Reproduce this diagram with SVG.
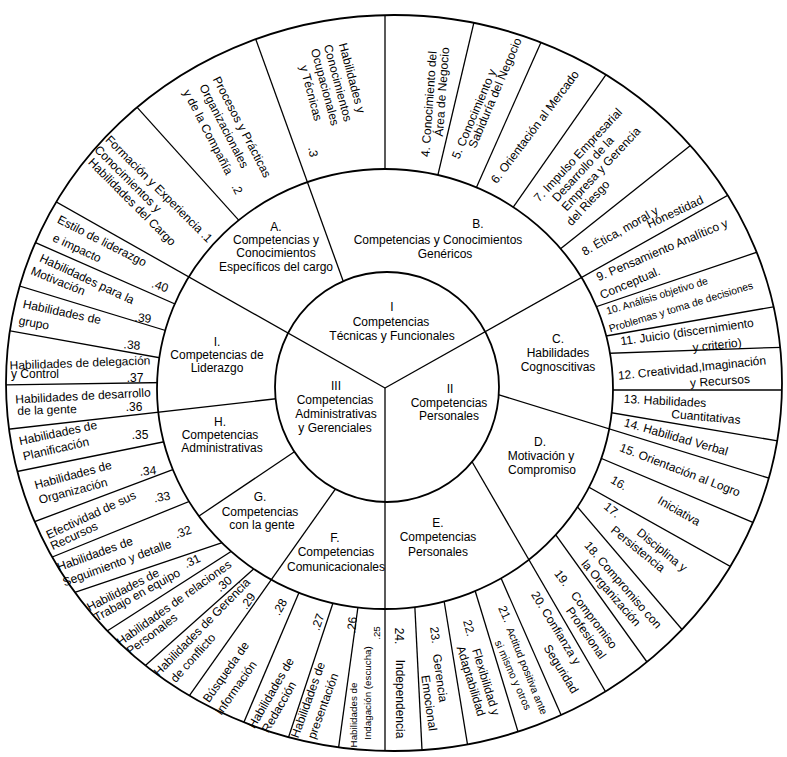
<svg xmlns="http://www.w3.org/2000/svg" width="787" height="757" viewBox="0 0 787 757">
<style>
.ln{stroke:#000;stroke-width:1.3;fill:none}
.ring{stroke:#000;stroke-width:1.8}
text{font-family:"Liberation Sans",Arial,sans-serif;font-size:12px;fill:#000;text-anchor:middle;dominant-baseline:central}
.s{font-size:10.4px}
.xs{font-size:9.8px}
</style>
<defs>
<clipPath id="oc"><ellipse cx="394" cy="383" rx="388" ry="368"/></clipPath>
</defs>
<rect width="787" height="757" fill="#fff"/>

<g id="outer-dividers" class="ln" clip-path="url(#oc)">
<line x1="0" y1="0" x2="460" y2="0" transform="translate(388,386) rotate(-132)"/>
<line x1="385" y1="300" x2="385" y2="0"/>
<line x1="0" y1="0" x2="460" y2="0" transform="translate(388,386) rotate(-76.7)"/>
<line x1="0" y1="0" x2="460" y2="0" transform="translate(388,386) rotate(-66)"/>
<line x1="0" y1="0" x2="460" y2="0" transform="translate(388,386) rotate(-55)"/>
<line x1="0" y1="0" x2="460" y2="0" transform="translate(388,386) rotate(-38.5)"/>
<line x1="560" y1="319" x2="790" y2="241"/>
<line x1="560" y1="344" x2="790" y2="304"/>
<line x1="560" y1="355" x2="790" y2="347"/>
<line x1="560" y1="390" x2="790" y2="390"/>
<line x1="560" y1="404" x2="790" y2="443"/>
<line x1="560" y1="441" x2="790" y2="538"/>
<line x1="560" y1="471" x2="790" y2="600"/>
<line x1="540" y1="463" x2="720" y2="674"/>
<line x1="530" y1="499" x2="680" y2="708"/>
<line x1="490" y1="553" x2="580" y2="758"/>
<line x1="470" y1="574" x2="530" y2="771"/>
<line x1="441" y1="582" x2="472" y2="772"/>
<line x1="414" y1="590" x2="423" y2="770"/>
<line x1="361" y1="585" x2="335.5" y2="770"/>
<line x1="340.6" y1="580" x2="277.7" y2="770"/>
<line x1="308.6" y1="570" x2="223.6" y2="770"/>
<line x1="110" y1="697" x2="275" y2="550"/>
<line x1="90" y1="642" x2="260" y2="533"/>
<line x1="60" y1="597.4" x2="240" y2="536.6"/>
<line x1="40" y1="562" x2="210" y2="493"/>
<line x1="25" y1="525.3" x2="200" y2="459.3"/>
<line x1="0" y1="475" x2="200" y2="434.5"/>
<line x1="0" y1="385" x2="200" y2="382"/>
<line x1="0" y1="329" x2="200" y2="365"/>
<line x1="0" y1="280" x2="200" y2="341"/>
<line x1="0" y1="227" x2="200" y2="315"/>
</g>

<ellipse id="middle-ring" class="ring" cx="385" cy="389" rx="228" ry="220" fill="#fff"/>

<g id="category-dividers" class="ln" clip-path="url(#oc)">
<line x1="380" y1="383" x2="247" y2="15"/>
<line x1="480" y1="389" x2="790" y2="484.6"/>
<line x1="460" y1="441" x2="651" y2="770"/>
<line x1="363" y1="450" x2="158" y2="740"/>
<line x1="300" y1="448" x2="199" y2="516"/>
<line x1="0" y1="0" x2="460" y2="0" transform="translate(388,386) rotate(173.5)"/>
</g>

<ellipse id="inner-circle" class="ring" cx="387" cy="387" rx="112" ry="115" fill="#fff"/>

<g id="main-dividers" class="ln" clip-path="url(#oc)">
<line x1="385" y1="388" x2="0" y2="170"/>
<line x1="385" y1="388" x2="787" y2="162"/>
<line x1="385" y1="388" x2="385" y2="760"/>
</g>

<ellipse id="outer-ring" class="ring" cx="394" cy="383" rx="388" ry="368" fill="none"/>

<g id="core-labels">
<text x="392" y="307">I</text>
<text x="391" y="322">Competencias</text>
<text x="392" y="336">Técnicas y Funcionales</text>
<text x="336" y="386">III</text>
<text x="335" y="400">Competencias</text>
<text x="336" y="414">Administrativas</text>
<text x="335" y="428">y Gerenciales</text>
<text x="450" y="389">II</text>
<text x="449" y="403">Competencias</text>
<text x="449" y="416">Personales</text>
</g>

<g id="category-labels">
<text x="276" y="227">A.</text>
<text x="276" y="240">Competencias y</text>
<text x="276" y="253">Conocimientos</text>
<text x="276" y="267">Específicos del cargo</text>
<text x="478" y="224">B.</text>
<text x="438" y="240">Competencias y Conocimientos</text>
<text x="445" y="254">Genéricos</text>
<text x="558" y="339">C.</text>
<text x="558" y="353">Habilidades</text>
<text x="558" y="367">Cognoscitivas</text>
<text x="540" y="442">D.</text>
<text x="541" y="456">Motivación y</text>
<text x="542" y="470">Compromiso</text>
<text x="438" y="523">E.</text>
<text x="438" y="537">Competencias</text>
<text x="438" y="552">Personales</text>
<text x="335" y="538">F.</text>
<text x="336" y="552">Competencias</text>
<text x="336" y="567">Comunicacionales</text>
<text x="260" y="497">G.</text>
<text x="260" y="512">Competencias</text>
<text x="262" y="525">con la gente</text>
<text x="220" y="422">H.</text>
<text x="220" y="435">Competencias</text>
<text x="222" y="448">Administrativas</text>
<text x="217" y="342">I.</text>
<text x="217" y="355">Competencias de</text>
<text x="217" y="368">Liderazgo</text>
</g>

<g id="item-labels">
<text transform="translate(159,189) rotate(45)">Formación y Experiencia .1</text>
<text transform="translate(128,179) rotate(45)">Conocimientos y</text>
<text transform="translate(132,202) rotate(45)">Habilidades del Cargo</text>
<text transform="translate(242,127) rotate(62.5)">Procesos y Prácticas</text>
<text transform="translate(224,126) rotate(62.5)">Organizacionales</text>
<text transform="translate(208,132) rotate(62.5)">y de la Compañía</text>
<text transform="translate(237,189) rotate(62.5)">.2</text>
<text transform="translate(352,78) rotate(75)">Habilidades y</text>
<text transform="translate(338,83) rotate(75)">Conocimientos</text>
<text transform="translate(325,87) rotate(75)">Ocupacionales</text>
<text transform="translate(311,93) rotate(75)">y Técnicas</text>
<text transform="translate(313,152) rotate(80)">.3</text>
<text transform="translate(429,104) rotate(-86)">4. Conocimiento del</text>
<text transform="translate(442,92) rotate(-86)">Área de Negocio</text>
<text transform="translate(474,114) rotate(-67)">5. Conocimiento y</text>
<text transform="translate(495,93) rotate(-67)">Sabiduría del Negocio</text>
<text transform="translate(535,127) rotate(-53)">6. Orientación al Mercado</text>
<text transform="translate(578,155) rotate(-47)">7. Impulso Empresarial</text>
<text transform="translate(583,169) rotate(-47)">Desarrollo de la</text>
<text transform="translate(601,169) rotate(-47)">Empresa y Gerencia</text>
<text transform="translate(588,203) rotate(-47)">del Riesgo</text>
<text transform="translate(620,231) rotate(-30)">8. Ética, moral y</text>
<text transform="translate(675,212) rotate(-25)">Honestidad</text>
<text transform="translate(662,250) rotate(-23)">9. Pensamiento Analítico y</text>
<text transform="translate(630,283) rotate(-23)">Conceptual.</text>
<text class="s" transform="translate(657,296) rotate(-17)">10. Análisis objetivo de</text>
<text class="s" transform="translate(681,307) rotate(-17)">Problemas y toma de decisiones</text>
<text transform="translate(687,332) rotate(-8)">11. Juicio (discernimiento</text>
<text transform="translate(717,345) rotate(-6)">y criterio)</text>
<text transform="translate(692,368) rotate(-6)">12. Creatividad,Imaginación</text>
<text transform="translate(720,381) rotate(-4)">y Recursos</text>
<text transform="translate(665,401) rotate(3)">13. Habilidades</text>
<text transform="translate(706,417) rotate(5)">Cuantitativas</text>
<text transform="translate(676,437) rotate(16)">14. Habilidad Verbal</text>
<text transform="translate(680,470) rotate(21)">15. Orientación al Logro</text>
<text transform="translate(619,483) rotate(30)">16.</text>
<text transform="translate(679,511) rotate(30)">Iniciativa</text>
<text transform="translate(612,510) rotate(40)">17.</text>
<text transform="translate(662,550) rotate(39)">Disciplina y</text>
<text transform="translate(638,549) rotate(39)">Persistencia</text>
<text transform="translate(623,585) rotate(49)">18. Compromiso con</text>
<text transform="translate(611,593) rotate(49)">la Organización</text>
<text transform="translate(562,578) rotate(53)">19.</text>
<text transform="translate(594,620) rotate(53)">Compromiso</text>
<text transform="translate(586,633) rotate(55)">Profesional</text>
<text transform="translate(556,628) rotate(58.5)">20. Confianza y</text>
<text transform="translate(561,669) rotate(58.5)">Seguridad</text>
<text transform="translate(505,614) rotate(66)">21.</text>
<text class="s" transform="translate(527,671) rotate(68)">Actitud positiva ante</text>
<text class="s" transform="translate(513,675) rotate(66)">si mismo y otros</text>
<text transform="translate(469,628) rotate(75)">22.</text>
<text transform="translate(486,682) rotate(73)">Flexibilidad y</text>
<text transform="translate(471,681) rotate(73)">Adaptabilidad</text>
<text transform="translate(435,635) rotate(82)">23.</text>
<text transform="translate(440,678) rotate(82)">Gerencia</text>
<text transform="translate(429,703) rotate(82)">Emocional</text>
<text transform="translate(399,636) rotate(90)">24.</text>
<text transform="translate(400,699) rotate(90)">Independencia</text>
<text class="xs" transform="translate(376,633) rotate(-90)">.25</text>
<text class="xs" transform="translate(353,715) rotate(-90)">Habilidades de</text>
<text class="xs" transform="translate(367,693) rotate(-90)">Indagación (escucha)</text>
<text transform="translate(352,625) rotate(-85)">.26</text>
<text transform="translate(318,622) rotate(-70)">.27</text>
<text transform="translate(308,700) rotate(-70)">Habilidades de</text>
<text transform="translate(323,706) rotate(-70)">presentación</text>
<text transform="translate(280,607) rotate(-60)">.28</text>
<text transform="translate(271,693) rotate(-60)">Habilidades de</text>
<text transform="translate(279,707) rotate(-60)">Redacción</text>
<text transform="translate(226,672) rotate(-55)">Búsqueda  de</text>
<text transform="translate(236,688) rotate(-55)">Información</text>
<text transform="translate(248,601) rotate(-55)">.29</text>
<text transform="translate(202,627) rotate(-45.5)">Habilidades de Gerencia</text>
<text transform="translate(193,658) rotate(-48)">de conflicto</text>
<text transform="translate(224,584) rotate(-40)">.30</text>
<text transform="translate(174,603) rotate(-35.5)">Habilidades de relaciones</text>
<text transform="translate(152,634) rotate(-37)">Personales</text>
<text transform="translate(192,561) rotate(-25)">.31</text>
<text transform="translate(123,590) rotate(-27)">Habilidades de</text>
<text transform="translate(137,595) rotate(-29)">Trabajo en equipo</text>
<text transform="translate(183,532) rotate(-20)">.32</text>
<text transform="translate(95,554) rotate(-20)">Habilidades de</text>
<text transform="translate(117,563) rotate(-20)">Seguimiento y detalle</text>
<text transform="translate(162,497) rotate(-10)">.33</text>
<text transform="translate(91,515) rotate(-25)">Efectividad de sus</text>
<text transform="translate(74,536) rotate(-25)">Recursos</text>
<text transform="translate(148,471) rotate(-5)">.34</text>
<text transform="translate(73,475) rotate(-15)">Habilidades de</text>
<text transform="translate(73,491) rotate(-15)">Organización</text>
<text x="140" y="435">.35</text>
<text transform="translate(58,433) rotate(-12)">Habilidades de</text>
<text transform="translate(56,449) rotate(-13)">Planificación</text>
<text x="134" y="407">.36</text>
<text transform="translate(83,396) rotate(-3)">Habilidades de desarrollo</text>
<text transform="translate(47,410) rotate(-2)">de la gente</text>
<text x="135" y="378">.37</text>
<text transform="translate(80,363) rotate(-2)">Habilidades de delegación</text>
<text x="35" y="374">y Control</text>
<text transform="translate(132,345) rotate(5)">.38</text>
<text transform="translate(143,318) rotate(5)">.39</text>
<text transform="translate(62,312) rotate(12)">Habilidades de</text>
<text transform="translate(34,323) rotate(10)">grupo</text>
<text transform="translate(160,286) rotate(20)">.40</text>
<text transform="translate(87,279) rotate(25)">Habilidades para la</text>
<text transform="translate(58,281) rotate(22)">Motivación</text>
<text transform="translate(102,241) rotate(27)">Estilo de liderazgo</text>
<text transform="translate(77,248) rotate(25)">e impacto</text>
</g>
</svg>
